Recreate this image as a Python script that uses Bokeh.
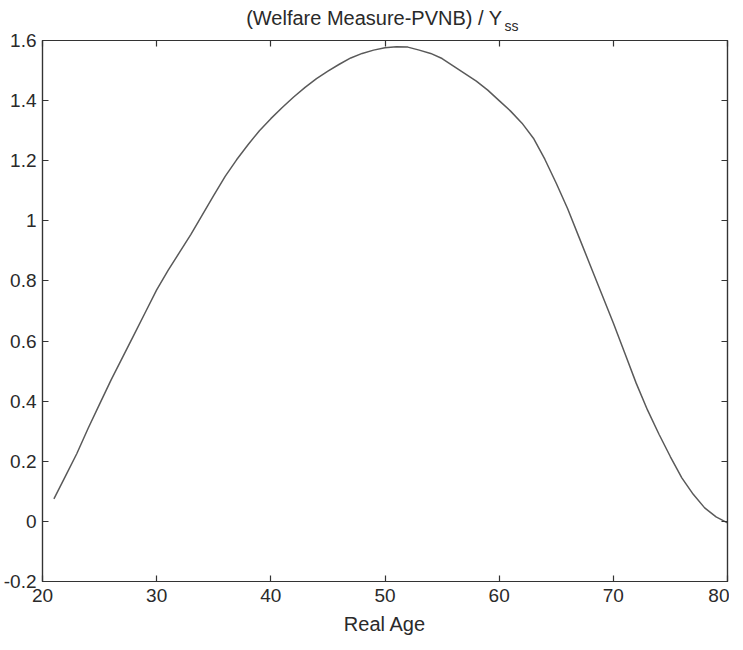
from bokeh.plotting import figure
from bokeh.models import (LinearAxis, FixedTicker, CustomJSTickFormatter, Label,
                          Range1d, ColumnDataSource)
from bokeh.embed import file_html
from bokeh.resources import INLINE

# ---- data ----
age = [21, 22, 23, 24, 25, 26, 27, 28, 29, 30,
       31, 32, 33, 34, 35, 36, 37, 38, 39, 40,
       41, 42, 43, 44, 45, 46, 47, 48, 49, 50,
       51, 52, 53, 54, 55, 56, 57, 58, 59, 60,
       61, 62, 63, 64, 65, 66, 67, 68, 69, 70,
       71, 72, 73, 74, 75, 76, 77, 78, 79, 80]
welfare = [0.075, 0.15, 0.225, 0.31, 0.39, 0.47, 0.545, 0.62, 0.695, 0.77,
           0.835, 0.895, 0.955, 1.02, 1.085, 1.148, 1.203, 1.253, 1.30, 1.34,
           1.377, 1.412, 1.444, 1.473, 1.498, 1.521, 1.542, 1.557, 1.568, 1.576,
           1.579, 1.578, 1.568, 1.557, 1.54, 1.515, 1.49, 1.465, 1.435, 1.40,
           1.365, 1.325, 1.275, 1.205, 1.125, 1.04, 0.945, 0.85, 0.755, 0.66,
           0.56, 0.46, 0.37, 0.29, 0.215, 0.145, 0.09, 0.045, 0.015, -0.005]
x_ticks = [20, 30, 40, 50, 60, 70, 80]
y_ticks = [-0.2, 0, 0.2, 0.4, 0.6, 0.8, 1, 1.2, 1.4, 1.6]
title_main = "(Welfare Measure-PVNB) / Y"
title_sub = "ss"
x_label = "Real Age"

FONT = "Liberation Sans"
AXC = "#333333"
TXT = "#2a2a2a"

p = figure(width=729, height=642, output_backend="svg", toolbar_location=None,
           x_range=Range1d(20, 80), y_range=Range1d(-0.2, 1.6),
           min_border_left=40, min_border_right=2, min_border_top=40,
           min_border_bottom=61, x_axis_type=None, y_axis_type=None)
p.grid.visible = False
p.outline_line_color = AXC
p.outline_line_width = 1.2
p.background_fill_color = "white"
p.border_fill_color = "white"

fmt = CustomJSTickFormatter(code="return String(Math.round(tick*10)/10);")


def style(ax, labels=True):
    ax.axis_line_color = AXC
    ax.axis_line_width = 1.2
    ax.major_tick_line_color = AXC
    ax.major_tick_line_width = 1.2
    ax.major_tick_in = 6
    ax.major_tick_out = 0
    ax.minor_tick_line_color = None
    if labels:
        ax.major_label_text_font = FONT
        ax.major_label_text_font_size = "19px"
        ax.major_label_text_color = TXT
    else:
        ax.major_label_text_font_size = "1px"
        ax.major_label_text_color = None
        ax.major_label_standoff = 0


xb = LinearAxis(ticker=FixedTicker(ticks=x_ticks), formatter=fmt)
style(xb)
xb.major_label_standoff = 7
xb.axis_label = x_label
xb.axis_label_text_font = FONT
xb.axis_label_text_font_size = "20px"
xb.axis_label_text_font_style = "normal"
xb.axis_label_text_color = TXT
xb.axis_label_standoff = 8
p.add_layout(xb, "below")

yl = LinearAxis(ticker=FixedTicker(ticks=y_ticks), formatter=fmt)
style(yl)
yl.major_label_standoff = 6
p.add_layout(yl, "left")

xt = LinearAxis(ticker=FixedTicker(ticks=x_ticks))
style(xt, labels=False)
p.add_layout(xt, "above")

yr = LinearAxis(ticker=FixedTicker(ticks=y_ticks))
style(yr, labels=False)
p.add_layout(yr, "right")

src = ColumnDataSource(dict(x=age, y=welfare))
p.line("x", "y", source=src, line_color="#5a5a5a", line_width=1.5)

# title with subscript, placed in the panel above the frame
p.add_layout(Label(x=460, y=23, x_units="screen", y_units="screen",
                   text=title_main, text_align="right", text_baseline="alphabetic",
                   text_font=FONT, text_font_size="20px", text_color=TXT), "above")
p.add_layout(Label(x=462, y=-7, x_units="screen", y_units="screen",
                   text=title_sub, text_align="left", text_baseline="alphabetic",
                   text_font=FONT, text_font_size="14px", text_color=TXT), "above")

open("out.html", "w").write(file_html(p, INLINE))
